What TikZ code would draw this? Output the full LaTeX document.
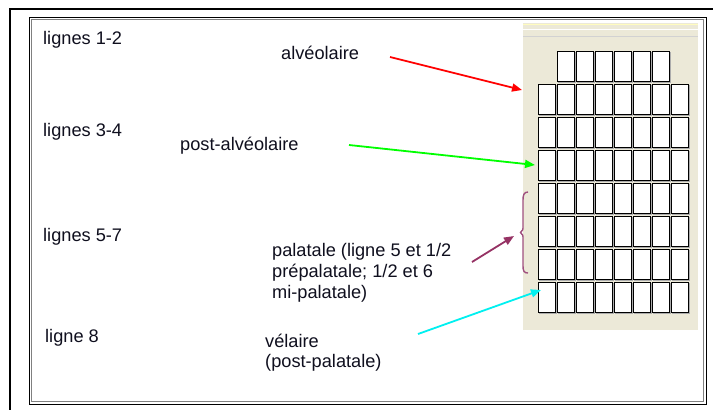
\documentclass[tikz,border=0pt]{standalone}
\usepackage{fontspec}
\setmainfont{Liberation Sans}
\usetikzlibrary{arrows.meta}
\definecolor{txtc}{RGB}{15,15,30}
\definecolor{panelc}{RGB}{236,233,216}
\definecolor{bracec}{RGB}{160,80,128}
\definecolor{purparr}{RGB}{150,50,100}
\definecolor{greenarr}{RGB}{0,255,0}
\definecolor{cyanarr}{RGB}{0,240,240}
\begin{document}
\begin{tikzpicture}[x=1pt,y=-1pt,
  lbl/.style={anchor=base west,inner sep=0pt,font=\fontsize{18.2}{21}\selectfont,text=txtc},
  arr/.style={line width=1.8pt,-{Triangle[length=10pt,width=8pt]}},
  cellbox/.style={draw=black,fill=white,line width=0.9pt},
  cellshadow/.style={fill=gray!65}]
\useasboundingbox (0,0) rectangle (713,410);
\fill[white] (0,0) rectangle (713,410);
% frames
\draw[line width=2.6pt] (10,410) -- (10,9) -- (713,9);
\draw[line width=1pt] (29,17) rectangle (706,404);
\draw[gray,line width=1pt] (31.5,19.5) rectangle (703.5,401.5);
% panel
\fill[panelc] (523,23) rectangle (698,330);
\draw[yellow!25,line width=1pt] (523,24) -- (698,24);
\draw[white,line width=0.8pt] (523,29.5) -- (698,29.5);
\draw[gray!35,line width=0.8pt] (523,36) -- (698,36);
% cells
\foreach \i in {1,...,6} {
  \pgfmathsetmacro{\cx}{538+19*\i}
  \fill[cellshadow] (\cx+1,52) rectangle (\cx+18.5,82.5);
  \draw[cellbox] (\cx,51) rectangle (\cx+17,81);
}
\foreach \r in {1,...,7} {
  \foreach \i in {0,...,7} {
    \pgfmathsetmacro{\cx}{538+19*\i}
    \pgfmathsetmacro{\cy}{51+33*\r}
    \fill[cellshadow] (\cx+1,\cy+1) rectangle (\cx+18.5,\cy+31.5);
    \draw[cellbox] (\cx,\cy) rectangle (\cx+17,\cy+30);
  }
}
% brace
\draw[bracec,line width=1.4pt] (528,192) .. controls (524,192) and (523,195) .. (523,200)
  -- (523,226) .. controls (523,230) .. (520.5,232.5) .. controls (523,235) .. (523,239)
  -- (523,266) .. controls (523,271) and (524,273) .. (528,273);
% labels
\node[lbl] (l12) at (43,44) {lignes 1-2};
\node[lbl] (l34) at (43,136) {lignes 3-4};
\node[lbl] (l57) at (43,241) {lignes 5-7};
\node[lbl] (l8) at (45,342) {ligne 8};
\node[lbl] (alv) at (281,59) {alvéolaire};
\node[lbl] (palv) at (180,150) {post-alvéolaire};
\node[lbl] (pal1) at (272,256) {palatale (ligne 5 et 1/2};
\node[lbl] (pal2) at (272,277) {prépalatale; 1/2 et 6};
\node[lbl] (pal3) at (272,298) {mi-palatale)};
\node[lbl] (vel1) at (265,347) {vélaire};
\node[lbl] (vel2) at (265,367) {(post-palatale)};
% arrow coordinates
\coordinate (ra) at (390,57);
\coordinate (rb) at (522,90);
\coordinate (ga) at (349,145);
\coordinate (gb) at (535,165);
\coordinate (pa) at (472,262);
\coordinate (pb) at (514,236);
\coordinate (ca) at (418,334);
\coordinate (cb) at (541,290);
\draw[arr,red] (ra) -- (rb);
\draw[arr,greenarr] (ga) -- (gb);
\draw[arr,purparr] (pa) -- (pb);
\draw[arr,cyanarr] (ca) -- (cb);
\end{tikzpicture}
\end{document}
